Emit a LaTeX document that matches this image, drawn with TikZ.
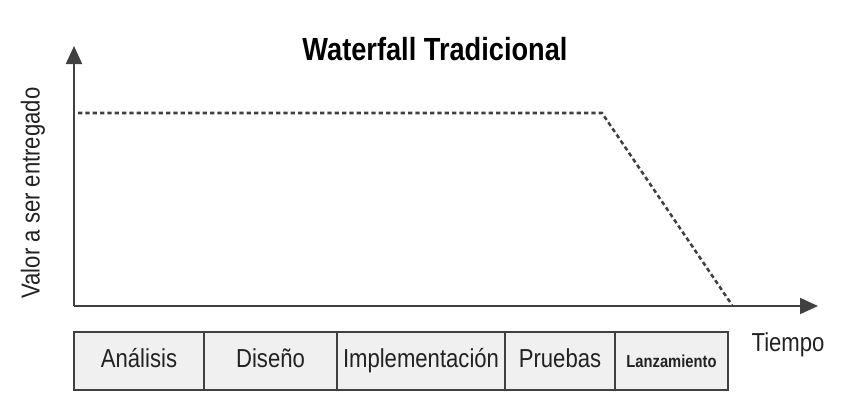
\documentclass[tikz,border=0pt]{standalone}
\usepackage{fontspec}
\setmainfont{Liberation Sans}[FakeStretch=0.85]
\usepackage{tikz}
\usetikzlibrary{arrows.meta, positioning}
\definecolor{axisgray}{HTML}{404040}
\definecolor{textgray}{HTML}{222222}
\definecolor{boxfill}{HTML}{F0F0F0}

\begin{document}
\begin{tikzpicture}[
    x=0.75pt, y=-0.75pt,
    axis/.style={-{Triangle[length=13.5pt, width=12pt]}, line width=1.5pt, axisgray},
    valueline/.style={line width=1.9pt, axisgray, dash pattern=on 3.2pt off 2.3pt},
    phasebox/.style={rectangle, draw=axisgray, fill=boxfill, line width=1.5pt,
                     minimum height=43.5pt, inner sep=0pt, text=textgray,
                     text height=14pt, text depth=4pt,
                     font=\fontsize{19.5}{22}\selectfont},
    label/.style={text=textgray, font=\fontsize{19.5}{22}\selectfont, inner sep=0pt}
]
\useasboundingbox (0,0) rectangle (850,419);

% Title
\node[text=black, font=\fontsize{24}{28}\selectfont\bfseries] at (435,49) (title) {Waterfall Tradicional};

% Axes
\coordinate (origin) at (74,306);
\coordinate (ytop) at (74,46);
\coordinate (xend) at (818,306);
\draw[axis] (origin) -- (ytop);
\draw[axis] (origin) -- (xend);

\node[label, rotate=90] at (33,193) (ylabel) {Valor a ser entregado};
\node[label] at (788,345) (xlabel) {Tiempo};

% Delivered value
\coordinate (v0) at (78,113);
\coordinate (v1) at (602,113);
\coordinate (v2) at (732,305);
\draw[valueline] (v0) -- (v1) -- (v2);

% Phases
\node[phasebox, minimum width=97.5pt] at (139,361) (ana) {Análisis};
\node[phasebox, minimum width=99.75pt] at (270.5,361) (dis) {Diseño};
\node[phasebox, minimum width=126pt] at (421,361) (imp) {Implementación};
\node[phasebox, minimum width=82.5pt] at (560,361) (pru) {Pruebas};
\node[phasebox, minimum width=84.75pt, font=\fontsize{13}{15}\selectfont\bfseries] at (671.5,361) (lan) {Lanzamiento};

\end{tikzpicture}
\end{document}
